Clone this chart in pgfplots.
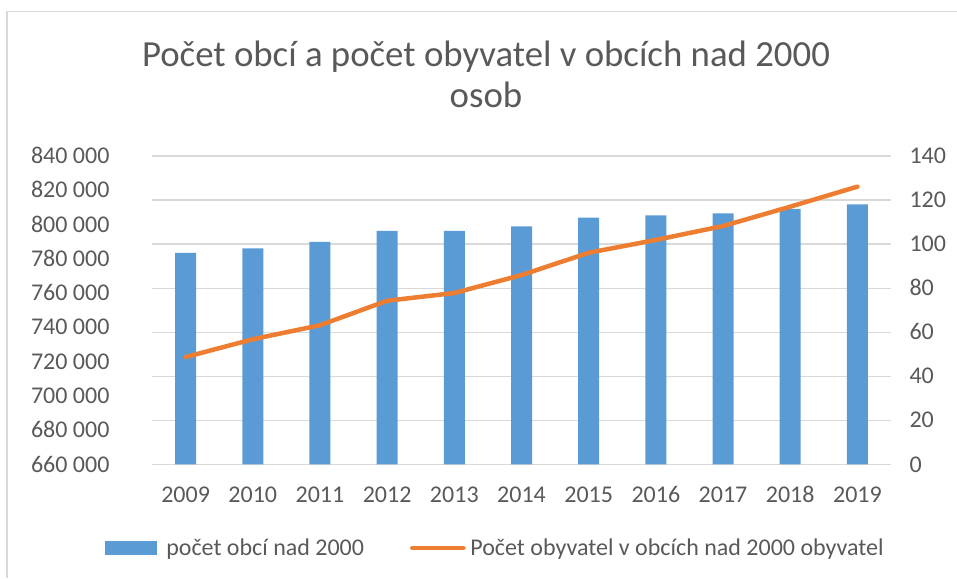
\documentclass[border=0pt]{standalone}
\usepackage{pgfplots}
\pgfplotsset{compat=1.18}
\usepackage{fontspec}
\setmainfont{Carlito}
\definecolor{barblue}{HTML}{5B9BD5}
\definecolor{lineorange}{HTML}{ED7D31}
\definecolor{txtgray}{HTML}{595959}
\definecolor{gridgray}{HTML}{D9D9D9}
\begin{document}
\begin{tikzpicture}[x=1pt,y=1pt]
\useasboundingbox (0,0) rectangle (957,578);
\draw[gridgray, line width=1.5pt] (7,0) -- (7,566.3) -- (957,566.3);
\node[anchor=base, text=txtgray, font=\fontsize{36.8}{40}\selectfont, inner sep=0pt] at (486,511) {Počet obcí a počet obyvatel v obcích nad 2000};
\node[anchor=base, text=txtgray, font=\fontsize{36.8}{40}\selectfont, inner sep=0pt] at (486,470) {osob};
\pgfplotsset{
  common/.style={
    at={(152pt,113.7pt)}, anchor=south west,
    scale only axis, width=739pt, height=308.3pt,
    xmin=-0.5, xmax=10.5,
    axis line style={draw=none},
    tick style={draw=none},
    scaled y ticks=false,
    /pgf/number format/assume math mode=true,
    tick label style={font=\fontsize{24}{28}\selectfont, text=txtgray},
  }
}
\begin{axis}[common,
  ymin=0, ymax=140, ytick={0,20,...,140},
  yticklabel pos=right,
  yticklabel style={anchor=west, text height=15.4pt, text depth=0pt, xshift=15pt},
  ymajorgrids, major grid style={gridgray, line width=1.2pt},
  xtick={0,...,10},
  xticklabels={2009,2010,2011,2012,2013,2014,2015,2016,2017,2018,2019},
  xticklabel style={anchor=base, yshift=-38pt},
]
\addplot[ybar, bar width=21pt, fill=barblue, draw=none] coordinates {
(0,96) (1,98) (2,101) (3,106) (4,106) (5,108) (6,112) (7,113) (8,114) (9,116) (10,118)};
\end{axis}
\begin{axis}[common,
  ymin=660000, ymax=840000,
  ytick={660000,680000,700000,720000,740000,760000,780000,800000,820000,840000},
  yticklabels={660 000,680 000,700 000,720 000,740 000,760 000,780 000,800 000,820 000,840 000},
  yticklabel style={anchor=east, text height=15.4pt, text depth=0pt, xshift=-39pt},
  xtick=\empty,
  legend style={draw=none, fill=none, at={(0.4648,-0.2715)}, anchor=center,
    legend columns=2, font=\fontsize{24}{28}\selectfont, text=txtgray,
    /tikz/every even column/.append style={column sep=44pt}},
]
\addlegendimage{legend image code/.code={\fill[barblue, draw=none] (0pt,-7pt) rectangle (52pt,7pt); \path[draw=none, fill=none] (0pt,0pt) -- (59pt,0pt);}}
\addlegendentry{počet obcí nad 2000}
\addplot[lineorange, line width=4.5pt, line join=round, line cap=round,
  legend image code/.code={\draw[lineorange, line width=4.5pt, line cap=round] (2pt,0pt) -- (53pt,0pt); \path[draw=none] (0pt,0pt) -- (58pt,0pt);}] coordinates {
(0,722600) (1,733000) (2,741200) (3,755500) (4,760000) (5,770500) (6,783500) (7,791000) (8,799100) (9,810400) (10,822100)};
\addlegendentry{Počet obyvatel v obcích nad 2000 obyvatel}
\end{axis}
\end{tikzpicture}
\end{document}
